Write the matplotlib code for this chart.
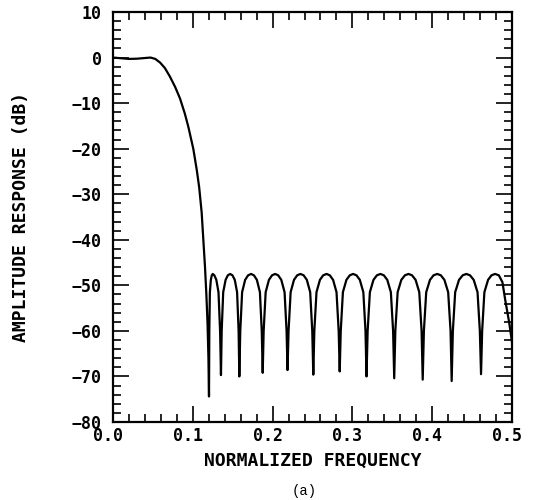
import matplotlib
matplotlib.use("Agg")
import matplotlib.pyplot as plt
from matplotlib.ticker import MultipleLocator, FixedLocator, FixedFormatter
from matplotlib.transforms import ScaledTranslation

# ---- data ----
freq_pass = [0.000, 0.010, 0.020, 0.030, 0.040, 0.047, 0.053, 0.059, 0.065, 0.0714,
             0.078, 0.084, 0.090, 0.0944, 0.1006, 0.1050, 0.1080, 0.1111, 0.1132,
             0.1153, 0.1170, 0.1185, 0.1196]
resp_pass = [0.0, -0.15, -0.3, -0.25, -0.1, 0.0, -0.3, -1.1, -2.3, -4.2,
             -6.5, -9.0, -12.3, -15.2, -20.0, -24.7, -28.5, -34.0, -40.0,
             -46.0, -52.0, -58.5, -66.0]

freq_stop = [
    0.1203, 0.1207, 0.1214, 0.1226, 0.1238, 0.1250, 0.1270, 0.1295, 0.1322, 0.1342,
    0.1353, 0.1362, 0.1381, 0.1411, 0.1439, 0.1468, 0.1497, 0.1526, 0.1555, 0.1574,
    0.1583, 0.1595, 0.1618, 0.1656, 0.1693, 0.1730, 0.1766, 0.1803, 0.1841, 0.1864,
    0.1876, 0.1888, 0.1913, 0.1954, 0.1993, 0.2032, 0.2070, 0.2109, 0.2150, 0.2175,
    0.2187, 0.2200, 0.2226, 0.2268, 0.2308, 0.2349, 0.2389, 0.2429, 0.2471, 0.2497,
    0.2510, 0.2523, 0.2550, 0.2593, 0.2634, 0.2676, 0.2717, 0.2758, 0.2801, 0.2828,
    0.2841, 0.2854, 0.2881, 0.2925, 0.2967, 0.3009, 0.3051, 0.3093, 0.3137, 0.3164,
    0.3177, 0.3191, 0.3219, 0.3264, 0.3307, 0.3351, 0.3394, 0.3437, 0.3482, 0.3510,
    0.3524, 0.3538, 0.3567, 0.3613, 0.3658, 0.3703, 0.3747, 0.3792, 0.3838, 0.3867,
    0.3881, 0.3896, 0.3925, 0.3972, 0.4017, 0.4063, 0.4108, 0.4153, 0.4200, 0.4230,
    0.4244, 0.4259, 0.4288, 0.4336, 0.4382, 0.4428, 0.4474, 0.4520, 0.4568, 0.4597,
    0.4612, 0.4626, 0.4654, 0.4700, 0.4743, 0.4787, 0.4835, 0.4880, 0.4915, 0.4966, 0.5000]
resp_stop = [
    -74.4, -60.0, -51.5, -48.8, -47.8, -47.5, -47.8, -48.8, -51.5, -60.0,
    -69.7, -60.0, -51.5, -48.8, -47.8, -47.5, -47.8, -48.8, -51.5, -60.0,
    -70.0, -60.0, -51.5, -48.8, -47.8, -47.5, -47.8, -48.8, -51.5, -60.0,
    -69.2, -60.0, -51.5, -48.8, -47.8, -47.5, -47.8, -48.8, -51.5, -60.0,
    -68.6, -60.0, -51.5, -48.8, -47.8, -47.5, -47.8, -48.8, -51.5, -60.0,
    -69.6, -60.0, -51.5, -48.8, -47.8, -47.5, -47.8, -48.8, -51.5, -60.0,
    -68.9, -60.0, -51.5, -48.8, -47.8, -47.5, -47.8, -48.8, -51.5, -60.0,
    -70.0, -60.0, -51.5, -48.8, -47.8, -47.5, -47.8, -48.8, -51.5, -60.0,
    -70.4, -60.0, -51.5, -48.8, -47.8, -47.5, -47.8, -48.8, -51.5, -60.0,
    -70.7, -60.0, -51.5, -48.8, -47.8, -47.5, -47.8, -48.8, -51.5, -60.0,
    -71.0, -60.0, -51.5, -48.8, -47.8, -47.5, -47.8, -48.8, -51.5, -60.0,
    -69.5, -60.0, -51.5, -48.8, -47.8, -47.5, -47.8, -49.3, -53.2, -58.3, -62.5]

x_ticks = [0.0, 0.1, 0.2, 0.3, 0.4, 0.5]
x_tick_labels = ["0.0", "0.1", "0.2", "0.3", "0.4", "0.5"]
y_ticks = [-80, -70, -60, -50, -40, -30, -20, -10, 0, 10]
y_tick_labels = ["\u221280", "\u221270", "\u221260", "\u221250", "\u221240",
                 "\u221230", "\u221220", "\u221210", "0", "10"]
x_label = "NORMALIZED FREQUENCY"
y_label = "AMPLITUDE RESPONSE (dB)"
caption = "(a)"

# ---- figure ----
W, H = 533, 500
fig = plt.figure(figsize=(W / 100, H / 100), dpi=100)
ax = fig.add_axes([113 / W, 78 / H, 399 / W, 410 / H])

freq = freq_pass + freq_stop
resp = resp_pass + resp_stop
ax.plot(freq, resp, color="black", lw=1.6, solid_joinstyle="round")

ax.set_xlim(0.0, 0.5)
ax.set_ylim(-80, 10)

mono = "DejaVu Sans Mono"
ax.xaxis.set_major_locator(FixedLocator(x_ticks))
ax.xaxis.set_major_formatter(FixedFormatter(x_tick_labels))
ax.yaxis.set_major_locator(FixedLocator(y_ticks))
ax.yaxis.set_major_formatter(FixedFormatter(y_tick_labels))
ax.xaxis.set_minor_locator(MultipleLocator(0.02))
ax.yaxis.set_minor_locator(MultipleLocator(2))

ax.tick_params(which="both", direction="in", top=True, right=True,
               width=1.2, color="black")
ax.tick_params(which="major", length=11.5)
ax.tick_params(which="minor", length=6)
ax.tick_params(axis="x", which="major", pad=3.5)
ax.tick_params(axis="y", which="major", pad=8)

for lab in ax.get_xticklabels():
    lab.set_fontfamily(mono)
    lab.set_fontsize(12)
    lab.set_fontweight("bold")
    lab.set_transform(lab.get_transform() + ScaledTranslation(-5 / 100, 0, fig.dpi_scale_trans))
for lab in ax.get_yticklabels():
    lab.set_fontfamily(mono)
    lab.set_fontsize(12)
    lab.set_fontweight("bold")

for sp in ax.spines.values():
    sp.set_linewidth(1.6)

ax.set_xlabel(x_label, fontfamily=mono, fontsize=13, fontweight="bold", va="center")
ax.xaxis.set_label_coords(0.5, -(461 - 422) / 410)
ax.set_ylabel(y_label, fontfamily=mono, fontsize=13, fontweight="bold", va="center")
ax.yaxis.set_label_coords((21.5 - 113) / 399, 0.5)

fig.text(304 / W, (500 - 491) / H, caption, fontfamily="Liberation Mono",
         fontsize=10, ha="center", va="center")

fig.savefig("out.png", dpi=100)
